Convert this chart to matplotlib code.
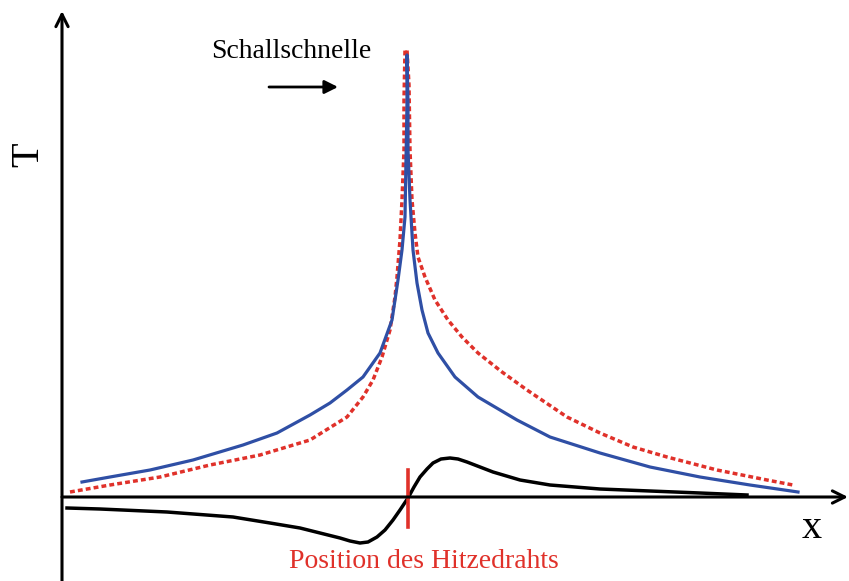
import matplotlib.pyplot as plt

# Values (x: position, T: temperature; origin at the axis crossing)
blue_x = [20, 48, 88, 131, 181, 215, 248, 268, 285, 301, 318, 330, 336, 340, 343, 344,
          345, 345, 346, 346, 348, 351, 355, 360, 366, 376, 393, 416, 455, 488, 538,
          588, 638, 688, 736]
blue_T = [15, 20, 27, 37, 52, 64, 82, 94, 107, 120, 144, 177, 217, 247, 280, 337,
          394, 442, 394, 347, 297, 247, 214, 187, 164, 144, 120, 100, 77, 60, 44,
          30, 20, 12, 5]

red_x = [8, 48, 98, 148, 198, 248, 285, 301, 311, 320, 328, 333, 335, 338, 340, 342,
         342, 343, 345, 347, 348, 350, 353, 356, 363, 373, 386, 400, 416, 440, 465,
         505, 538, 571, 605, 655, 705, 731]
red_T = [5, 12, 20, 32, 42, 57, 80, 100, 117, 140, 167, 200, 220, 257, 297, 347,
         397, 447, 447, 412, 347, 297, 264, 240, 220, 197, 177, 160, 144, 125, 107,
         80, 64, 50, 40, 27, 17, 12]

black_x = [5, 38, 105, 171, 208, 238, 258, 278, 288, 298, 306, 315, 323, 331, 338,
           346, 352, 358, 365, 371, 379, 388, 396, 405, 418, 431, 458, 488, 538, 588,
           638, 685]
black_T = [-11, -12, -15, -20, -26, -31, -36, -41, -44, -46, -45, -40, -33, -23, -13,
           -1, 10, 20, 28, 34, 38, 39, 38, 35, 30, 25, 17, 12, 8, 6, 4, 2]

wire_x = 346
wire_T = [-30, 27]

fig = plt.figure(figsize=(8.49, 5.81), dpi=100)
ax = fig.add_axes([0, 0, 1, 1])
ax.set_xlim(-62, 787)
ax.set_ylim(-84, 497)
ax.axis('off')

blue = '#2f4fa5'
red = '#e0312a'

ax.plot(red_x, red_T, color=red, lw=2.5, ls=(0, (1.4, 0.9)))
ax.plot(blue_x, blue_T, color=blue, lw=2.3, solid_joinstyle='round')
ax.plot(black_x, black_T, color='black', lw=2.5, solid_joinstyle='round')
ax.plot([wire_x, wire_x], wire_T, color=red, lw=2.6)

# axes arrows
ax.annotate('', xy=(0, 486), xytext=(0, -84),
            arrowprops=dict(arrowstyle='->', lw=2.2, color='black',
                            mutation_scale=22, shrinkA=0, shrinkB=0))
ax.annotate('', xy=(786, 0), xytext=(0, 0),
            arrowprops=dict(arrowstyle='->', lw=2.2, color='black',
                            mutation_scale=22, shrinkA=0, shrinkB=0))

serif = 'Liberation Serif'
ax.text(-33, 342, 'T', rotation=90, fontsize=29, family=serif,
        ha='center', va='center')
ax.text(750, -32, 'x', fontsize=29, family=serif, ha='center', va='center')
ax.text(229, 446, 'Schallschnelle', fontsize=20, family=serif,
        ha='center', va='center')
ax.annotate('', xy=(276, 410), xytext=(207, 410),
            arrowprops=dict(arrowstyle='-|>', lw=2, color='black',
                            mutation_scale=20, shrinkA=0, shrinkB=0))
ax.text(362, -65, 'Position des Hitzedrahts', fontsize=20, family=serif,
        color=red, ha='center', va='center')

fig.savefig('out.png', dpi=100)
